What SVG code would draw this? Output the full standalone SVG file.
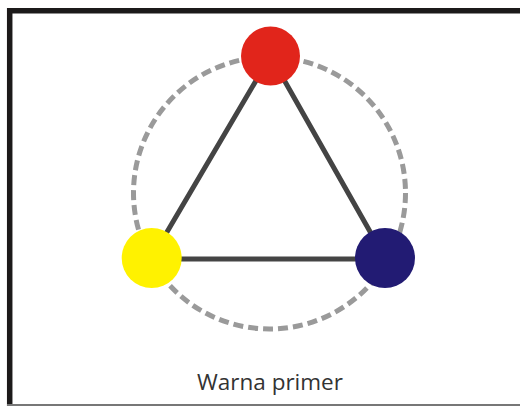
<svg xmlns="http://www.w3.org/2000/svg" width="520" height="406" viewBox="0 0 520 406">
<style>
.frame{stroke:#1c1a1a;stroke-width:5.5;fill:none}
.ring{fill:none;stroke:#9a9a9a;stroke-width:5;stroke-dasharray:10 5}
.edge{stroke:#444;stroke-width:5;stroke-linecap:round}
.lbl{font-family:"Open Sans","Noto Sans",sans-serif;font-size:22.5px;fill:#333;text-anchor:middle}
</style>
<rect width="520" height="406" fill="#fff"/>
<g id="frame">
<line class="frame" x1="9.7" y1="8" x2="9.7" y2="406"/>
<line class="frame" x1="7" y1="10.8" x2="520" y2="10.8"/>
<line x1="7" y1="405" x2="520" y2="405" stroke="#777" stroke-width="2"/>
</g>
<g id="ring">
<circle class="ring" cx="269.5" cy="193" r="136"/>
</g>
<g id="connectors">
<line class="edge" x1="270.5" y1="56" x2="151.7" y2="258"/>
<line class="edge" x1="270.5" y1="56" x2="385" y2="258"/>
<line class="edge" x1="151.7" y1="259" x2="385" y2="259"/>
</g>
<g id="red"><circle cx="270.5" cy="56" r="29.5" fill="#e1251b"/></g>
<g id="yellow"><circle cx="151.7" cy="258" r="30" fill="#fff200"/></g>
<g id="blue"><circle cx="385" cy="258" r="30" fill="#221b73"/></g>
<g id="label"><text class="lbl" x="270" y="390">Warna primer</text></g>
</svg>
